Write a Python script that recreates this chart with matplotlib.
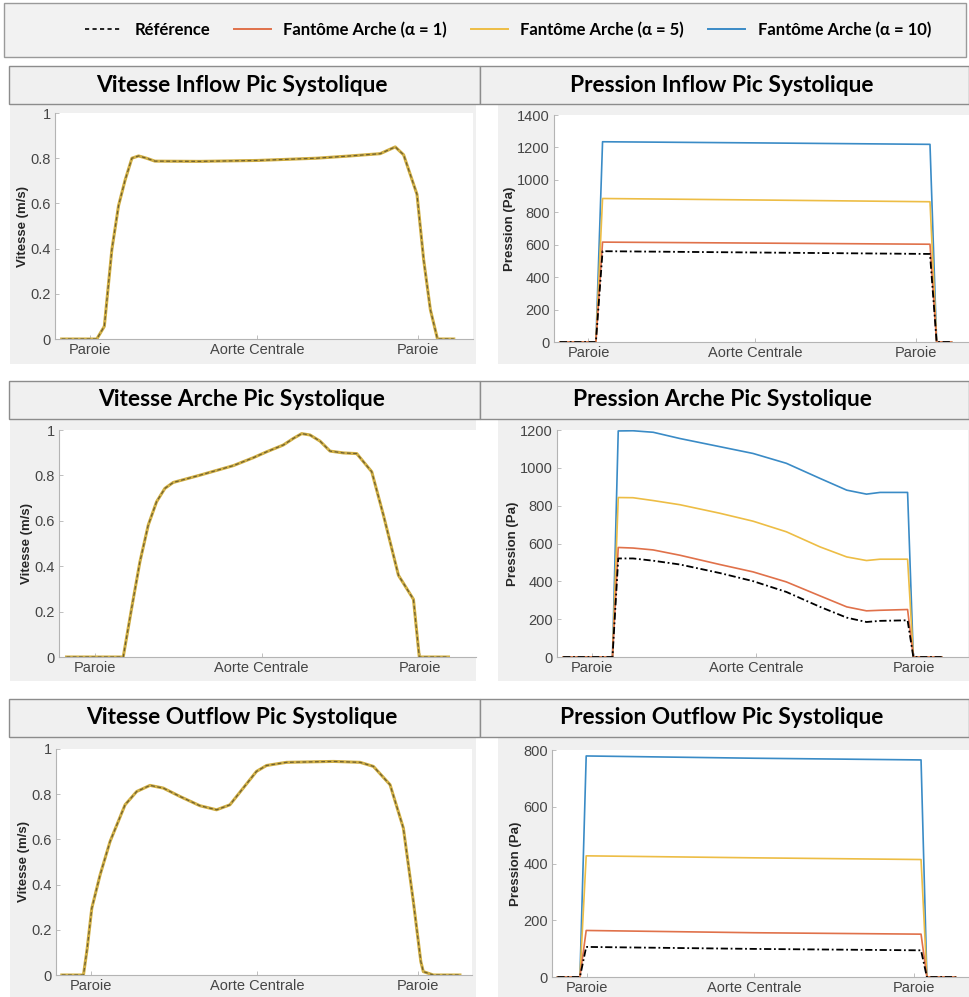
import matplotlib
matplotlib.use("Agg")
import matplotlib.pyplot as plt
from matplotlib.patches import Rectangle
from matplotlib.lines import Line2D

W, H = 969, 997

# couleurs MATLAB (un peu adoucies comme sur la capture)
C_REF = "black"
C_A1 = "#e0714a"
C_A5 = "#edbd45"
C_A10 = "#3a8bc6"

legend_labels = ["Référence", "Fantôme Arche (α = 1)",
                 "Fantôme Arche (α = 5)", "Fantôme Arche (α = 10)"]
xtick_labels = ["Paroie", "Aorte Centrale", "Paroie"]

# --- Inflow ---
vin_x = [1.6, 10.0, 11.8, 13.6, 15.2, 16.8, 18.4, 20.0, 21.9, 23.9, 34.7, 48.4,
         62.6, 70.6, 77.8, 81.4, 83.4, 86.6, 88.2, 89.8, 91.5, 95.4]
vin_y = [0, 0, 0.056, 0.395, 0.59, 0.705, 0.80, 0.81, 0.80, 0.787, 0.786, 0.79,
         0.80, 0.81, 0.82, 0.85, 0.815, 0.64, 0.35, 0.13, 0, 0]
vin_ticks = [8.4, 48.4, 86.8]

pin_x = [1.4, 10.1, 11.7, 48.5, 90.6, 92.2, 95.8]
pin_ref = [0, 0, 560, 552, 543, 0, 0]
pin_a1 = [0, 0, 616, 610, 603, 0, 0]
pin_a5 = [0, 0, 885, 876, 865, 0, 0]
pin_a10 = [0, 0, 1235, 1228, 1219, 0, 0]
pin_ticks = [8.3, 48.5, 87.2]

# --- Arche ---
va_x = [1.8, 15.4, 17.4, 19.4, 21.4, 23.4, 25.4, 27.4, 33.8, 41.8, 46.6, 49.8, 53.8,
        56.2, 58.2, 60.2, 62.6, 65.0, 68.2, 71.4, 75.0, 77.8, 81.4, 85.0, 86.4, 93.4]
va_y = [0, 0, 0.213, 0.419, 0.581, 0.684, 0.743, 0.769, 0.801, 0.843, 0.878, 0.904,
        0.934, 0.963, 0.984, 0.978, 0.951, 0.907, 0.899, 0.896, 0.816, 0.625, 0.360,
        0.254, 0, 0]
va_ticks = [8.6, 48.6, 86.6]

pa_x = [1.5, 13.5, 14.9, 18.5, 23.4, 29.9, 39.6, 47.7, 55.8, 64.0, 70.5, 75.3,
        78.6, 85.3, 86.7, 93.6]
pa_ref = [0, 0, 521, 521, 509, 489, 444, 401, 344, 265, 208, 185, 191, 194, 0, 0]
pa_a1 = [0, 0, 579, 576, 566, 538, 489, 450, 397, 323, 265, 244, 247, 251, 0, 0]
pa_a5 = [0, 0, 843, 842, 827, 805, 760, 718, 662, 582, 529, 510, 517, 517, 0, 0]
pa_a10 = [0, 0, 1195, 1196, 1188, 1155, 1112, 1076, 1024, 944, 882, 861, 870, 870, 0, 0]
pa_ticks = [8.4, 48.4, 86.9]

# --- Outflow ---
vo_x = [1.4, 6.6, 7.5, 8.6, 10.6, 13.0, 16.6, 19.4, 22.6, 25.8, 29.8, 34.6, 38.6,
        41.8, 45.0, 48.2, 50.6, 55.4, 66.7, 73.1, 76.3, 80.3, 83.5, 85.9, 87.7, 88.3,
        90.7, 97.1]
vo_y = [0, 0, 0.118, 0.295, 0.443, 0.591, 0.753, 0.812, 0.839, 0.827, 0.790, 0.749,
        0.731, 0.753, 0.827, 0.901, 0.927, 0.941, 0.945, 0.941, 0.923, 0.842, 0.650,
        0.325, 0.059, 0.015, 0, 0]
vo_ticks = [8.3, 48.4, 86.9]

po_x = [1.3, 6.7, 8.2, 48.4, 88.5, 89.9, 96.8]
po_ref = [0, 0, 106, 99, 94, 0, 0]
po_a1 = [0, 0, 164, 156, 151, 0, 0]
po_a5 = [0, 0, 427, 420, 414, 0, 0]
po_a10 = [0, 0, 779, 771, 765, 0, 0]
po_ticks = [8.3, 48.4, 86.7]


def rect(x0, y0, x1, y1):
    # pixels (haut-gauche) -> coordonnées figure
    return [x0 / W, 1 - y1 / H, (x1 - x0) / W, (y1 - y0) / H]


def fig_box(fig, x0, y0, x1, y1, fc, ec="none", lw=1.0):
    r = rect(x0, y0, x1, y1)
    fig.add_artist(Rectangle((r[0], r[1]), r[2], r[3], transform=fig.transFigure,
                             facecolor=fc, edgecolor=ec, linewidth=lw, zorder=0))


def style_axes(ax, ticks, ylim, yticks, ylabel):
    ax.set_xlim(0, 100)
    ax.set_ylim(*ylim)
    ax.set_xticks(ticks)
    ax.set_xticklabels(xtick_labels)
    ax.set_yticks(yticks)
    ax.set_yticklabels([f"{v:g}" for v in yticks])
    for s in ["top", "right"]:
        ax.spines[s].set_visible(False)
    for s in ["left", "bottom"]:
        ax.spines[s].set_color("#b4b4b4")
        ax.spines[s].set_linewidth(0.8)
    ax.tick_params(direction="in", length=3, width=0.6, color="#b4b4b4",
                   labelcolor="#454545", labelsize=10.5, pad=3)
    for lab in ax.get_xticklabels() + ax.get_yticklabels():
        lab.set_family("Liberation Sans")
    ax.set_ylabel(ylabel, fontsize=9.5, fontweight="bold", family="Liberation Sans",
                  labelpad=1, color="#262626")
    ax.set_facecolor("white")


def plot_vitesse(ax, x, y):
    # les quatre courbes se superposent
    ax.plot(x, y, color=C_A10, lw=1.2)
    ax.plot(x, y, color=C_A1, lw=1.2)
    ax.plot(x, y, color="#d2b045", lw=2.2)
    ax.plot(x, y, color="#6e6030", lw=0.9, ls=(0, (3, 2)))


def plot_pression(ax, x, ref, a1, a5, a10):
    ax.plot(x, a10, color=C_A10, lw=1.2)
    ax.plot(x, a5, color=C_A5, lw=1.2)
    ax.plot(x, a1, color=C_A1, lw=1.2)
    ax.plot(x, ref, color=C_REF, lw=1.3, ls=(0, (4, 1.5, 1, 1.5)))


fig = plt.figure(figsize=(W / 100, H / 100), dpi=100)
fig.patch.set_facecolor("white")

# boîte de légende
fig_box(fig, 4, 3, 966, 57, "#f2f2f2", "#9a9a9a", 1.0)
handles = [Line2D([], [], color=C_REF, lw=1.2, ls=(0, (2.5, 2))),
           Line2D([], [], color=C_A1, lw=1.4),
           Line2D([], [], color=C_A5, lw=1.4),
           Line2D([], [], color=C_A10, lw=1.4)]
fig.legend(handles, legend_labels, loc="center", bbox_to_anchor=(508 / W, 1 - 30 / H),
           ncol=4, frameon=False, handlelength=2.2, handletextpad=0.75,
           columnspacing=1.45, prop={"family": "Lato", "weight": "bold", "size": 12})

rows = [
    dict(bar=(66, 104), bg=(104, 364), axl=(55, 113, 473, 339), axr=(554, 115, 969, 342),
         tl="Vitesse Inflow Pic Systolique", tr="Pression Inflow Pic Systolique"),
    dict(bar=(381, 419), bg=(419, 681), axl=(59, 430, 476, 657), axr=(557, 430, 968, 657),
         tl="Vitesse Arche Pic Systolique", tr="Pression Arche Pic Systolique"),
    dict(bar=(699, 737), bg=(737, 997), axl=(56, 749, 472, 975), axr=(552, 750, 969, 977),
         tl="Vitesse Outflow Pic Systolique", tr="Pression Outflow Pic Systolique"),
]

axes = []
for r in rows:
    b0, b1 = r["bar"]
    g0, g1 = r["bg"]
    fig_box(fig, 10, g0, 476, g1, "#f0f0f0")
    fig_box(fig, 498, g0, 969, g1, "#f0f0f0")
    fig_box(fig, 9, b0, 480, b1, "#f0f0f0", "#8c8c8c", 1.0)
    fig_box(fig, 480, b0, 969, b1, "#f0f0f0", "#8c8c8c", 1.0)
    fig.text(242 / W, 1 - (b0 + b1) / 2 / H, r["tl"], ha="center", va="center",
             family="Lato", weight="bold", size=16.4)
    fig.text(722 / W, 1 - (b0 + b1) / 2 / H, r["tr"], ha="center", va="center",
             family="Lato", weight="bold", size=16.4)
    axl = fig.add_axes(rect(*r["axl"]))
    axr = fig.add_axes(rect(*r["axr"]))
    axes.append((axl, axr))

# Inflow
plot_vitesse(axes[0][0], vin_x, vin_y)
style_axes(axes[0][0], vin_ticks, (0, 1), [0, 0.2, 0.4, 0.6, 0.8, 1], "Vitesse (m/s)")
plot_pression(axes[0][1], pin_x, pin_ref, pin_a1, pin_a5, pin_a10)
style_axes(axes[0][1], pin_ticks, (0, 1400), list(range(0, 1401, 200)), "Pression (Pa)")

# Arche
plot_vitesse(axes[1][0], va_x, va_y)
style_axes(axes[1][0], va_ticks, (0, 1), [0, 0.2, 0.4, 0.6, 0.8, 1], "Vitesse (m/s)")
plot_pression(axes[1][1], pa_x, pa_ref, pa_a1, pa_a5, pa_a10)
style_axes(axes[1][1], pa_ticks, (0, 1200), list(range(0, 1201, 200)), "Pression (Pa)")

# Outflow
plot_vitesse(axes[2][0], vo_x, vo_y)
style_axes(axes[2][0], vo_ticks, (0, 1), [0, 0.2, 0.4, 0.6, 0.8, 1], "Vitesse (m/s)")
plot_pression(axes[2][1], po_x, po_ref, po_a1, po_a5, po_a10)
style_axes(axes[2][1], po_ticks, (0, 800), list(range(0, 801, 200)), "Pression (Pa)")

fig.savefig("out.png", dpi=100)
